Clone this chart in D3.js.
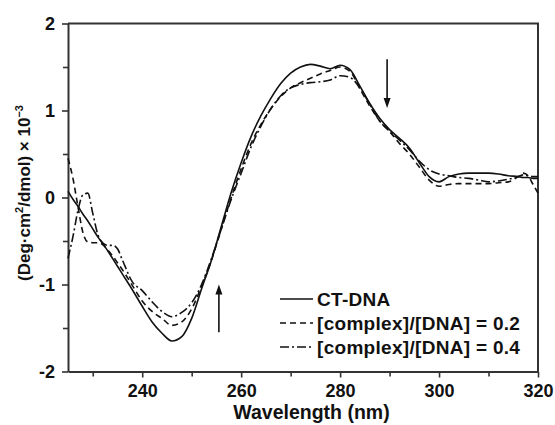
<!DOCTYPE html>
<html>
<head>
<meta charset="utf-8">
<script src="https://cdn.jsdelivr.net/npm/d3@7"></script>
<style>
  body { margin: 0; background: #fff; }
  text { font-family: Arial, "Liberation Sans", sans-serif; font-weight: bold; fill: #111; }
</style>
</head>
<body>
<script>
// Data
// =================================
let wavelengths = [225, 226, 227, 228, 229, 230, 231, 232, 233, 234, 235, 236, 238, 240, 242, 244, 246, 248, 250,
  252, 254, 256, 258, 260, 262, 264, 266, 268, 270, 272, 274, 276, 278, 280, 282, 284, 286, 288, 290,
  292, 294, 296, 298, 300, 302, 304, 306, 308, 310, 312, 314, 316, 317, 318, 319, 320];

let ctDna = [0.07, -0.02, -0.10, -0.19, -0.27, -0.36, -0.45, -0.53, -0.61, -0.70, -0.79, -0.88, -1.06, -1.25, -1.43, -1.56, -1.65, -1.60, -1.39,
  -1.05, -0.72, -0.33, 0.06, 0.40, 0.70, 0.94, 1.14, 1.31, 1.43, 1.50, 1.53, 1.51, 1.48, 1.52, 1.47, 1.28, 1.08, 0.91, 0.78,
  0.68, 0.57, 0.40, 0.24, 0.18, 0.24, 0.27, 0.28, 0.28, 0.28, 0.27, 0.25, 0.24, 0.23, 0.23, 0.22, 0.22];

let complex02 = [0.45, 0.22, -0.10, -0.40, -0.51, -0.52, -0.52, -0.54, -0.60, -0.67, -0.75, -0.83, -1.01, -1.19, -1.31, -1.39, -1.47, -1.43, -1.28,
  -1.02, -0.72, -0.36, 0.0, 0.33, 0.62, 0.84, 1.02, 1.16, 1.26, 1.32, 1.37, 1.42, 1.46, 1.50, 1.45, 1.25, 1.05, 0.88, 0.76,
  0.62, 0.50, 0.35, 0.20, 0.13, 0.15, 0.16, 0.16, 0.16, 0.16, 0.17, 0.18, 0.24, 0.28, 0.25, 0.15, 0.05];

let complex04 = [-0.70, -0.45, -0.15, 0.03, 0.05, -0.18, -0.42, -0.52, -0.55, -0.55, -0.59, -0.72, -0.97, -1.07, -1.20, -1.31, -1.37, -1.32, -1.21,
  -1.00, -0.70, -0.36, -0.02, 0.28, 0.58, 0.82, 1.02, 1.17, 1.26, 1.30, 1.32, 1.33, 1.35, 1.40, 1.38, 1.26, 1.07, 0.88, 0.76,
  0.66, 0.55, 0.42, 0.32, 0.27, 0.25, 0.23, 0.22, 0.20, 0.18, 0.19, 0.21, 0.24, 0.26, 0.25, 0.24, 0.24];

let seriesNames = ['CT-DNA', '[complex]/[DNA] = 0.2', '[complex]/[DNA] = 0.4'];
let xTicks = [230, 240, 250, 260, 270, 280, 290, 300, 310, 320];
let xLabels = [240, 260, 280, 300, 320];
let yTicks = [-2, -1.5, -1, -0.5, 0, 0.5, 1, 1.5, 2];
let yLabels = [-2, -1, 0, 1, 2];

// arrows: [wavelength, from, to]
let arrows = [[255.5, -1.55, -1.0], [289.5, 1.59, 1.03]];

// Set up our chart
//= ================================
let svgWidth = 555;
let svgHeight = 425;
let margin = { top: 23.5, right: 17, bottom: 53.5, left: 68 };
let width = svgWidth - margin.left - margin.right;
let height = svgHeight - margin.top - margin.bottom;

let svg = d3.select("body")
  .append("svg")
  .attr("width", svgWidth)
  .attr("height", svgHeight);
let chartGroup = svg.append("g")
  .attr("transform", `translate(${margin.left}, ${margin.top})`);

// Scales
let xScale = d3.scaleLinear().domain([225, 320]).range([0, width]);
let yScale = d3.scaleLinear().domain([-2, 2]).range([height, 0]);

// Frame (top + right)
chartGroup.append("path")
  .attr("d", `M0,0H${width}V${height}`)
  .attr("fill", "none")
  .attr("stroke", "#333")
  .attr("stroke-width", 2);

// Axes
let bottomAxis = d3.axisBottom(xScale)
  .tickValues(xTicks)
  .tickSizeOuter(0)
  .tickPadding(7)
  .tickFormat(d => xLabels.includes(d) ? d : "");
let xAxisG = chartGroup.append("g")
  .attr("transform", `translate(0, ${height})`)
  .call(bottomAxis);

let leftAxis = d3.axisLeft(yScale)
  .tickValues(yTicks)
  .tickSizeOuter(0)
  .tickPadding(7)
  .tickFormat(d => yLabels.includes(d) ? String(d) : "");
let yAxisG = chartGroup.append("g").call(leftAxis);

[xAxisG, yAxisG].forEach(function(g) {
  g.select(".domain").attr("stroke", "#333").attr("stroke-width", 2);
  g.selectAll(".tick line").attr("stroke", "#333").attr("stroke-width", 1.6);
  g.selectAll(".tick text").attr("font-size", "18px").attr("font-family", null).attr("fill", "#111");
});
xAxisG.selectAll(".tick line").attr("y2", d => xLabels.includes(d) ? 6 : 5);
yAxisG.selectAll(".tick line").attr("x2", d => yLabels.includes(d) ? -6 : -5);

// Axis titles
chartGroup.append("text")
  .attr("x", (233 + 390) / 2 - margin.left)
  .attr("y", 419 - margin.top)
  .attr("text-anchor", "middle")
  .attr("font-size", "19.5px")
  .text("Wavelength (nm)");

let yTitle = chartGroup.append("text")
  .attr("transform", `translate(${30 - margin.left}, ${193 - margin.top}) rotate(-90)`)
  .attr("text-anchor", "middle")
  .attr("font-size", "17px");
yTitle.append("tspan").text("(Deg\u00b7cm");
yTitle.append("tspan").attr("dy", -7).attr("font-size", "11px").text("2");
yTitle.append("tspan").attr("dy", 7).text("/dmol) \u00d7 10");
yTitle.append("tspan").attr("dy", -7).attr("font-size", "11px").text("\u22123");

// Lines
let dashes = [null, "6,4", "9,3,2,3"];
let allSeries = [ctDna, complex02, complex04];
let line = d3.line()
  .x(d => xScale(d[0]))
  .y(d => yScale(d[1]))
  .curve(d3.curveMonotoneX);

allSeries.forEach(function(vals, i) {
  chartGroup.append("path")
    .datum(wavelengths.map((w, j) => [w, vals[j]]))
    .attr("fill", "none")
    .attr("stroke", "#111")
    .attr("stroke-width", 1.6)
    .attr("stroke-dasharray", dashes[i])
    .attr("d", line);
});

// Arrows
arrows.forEach(function(a) {
  let x = xScale(a[0]);
  let y0 = yScale(a[1]);
  let y1 = yScale(a[2]);
  let dir = y1 < y0 ? 1 : -1;
  chartGroup.append("line")
    .attr("x1", x).attr("x2", x)
    .attr("y1", y0).attr("y2", y1 + dir * 8)
    .attr("stroke", "#111")
    .attr("stroke-width", 1.6);
  chartGroup.append("path")
    .attr("d", `M${x},${y1}L${x - 3.5},${y1 + dir * 10}L${x + 3.5},${y1 + dir * 10}Z`)
    .attr("fill", "#111");
});

// Legend
let legend = chartGroup.append("g")
  .attr("transform", `translate(${280 - margin.left}, ${299 - margin.top})`);
seriesNames.forEach(function(name, i) {
  let row = legend.append("g").attr("transform", `translate(0, ${i * 24})`);
  row.append("line")
    .attr("x1", 0).attr("x2", 33)
    .attr("stroke", "#111")
    .attr("stroke-width", 1.6)
    .attr("stroke-dasharray", dashes[i]);
  row.append("text")
    .attr("x", 37)
    .attr("y", 6.5)
    .attr("font-size", "19px")
    .attr("letter-spacing", "0.3px")
    .text(name);
});
</script>
</body>
</html>
